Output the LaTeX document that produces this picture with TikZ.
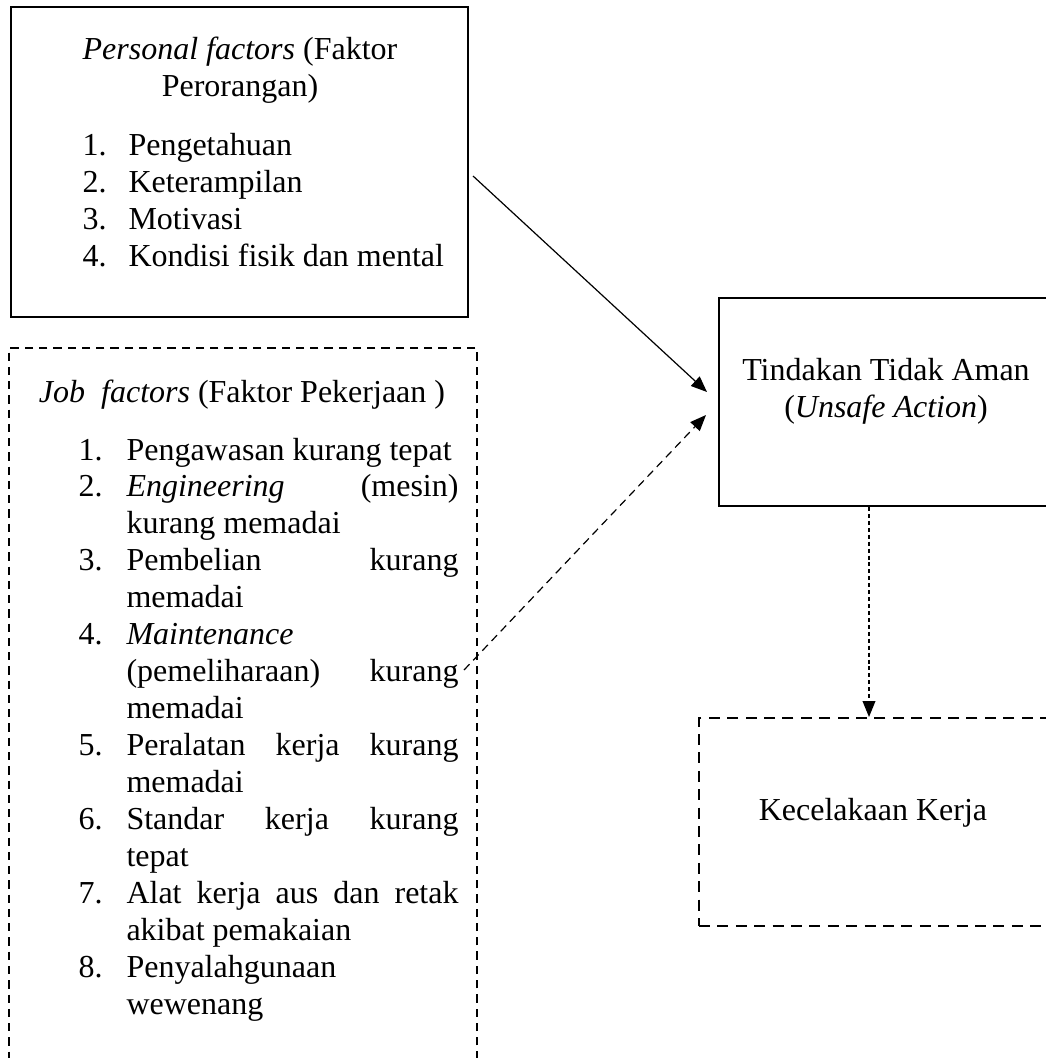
\documentclass[tikz,border=0pt]{standalone}
\usepackage{fontspec}
\setmainfont{Liberation Serif}
\usetikzlibrary{arrows.meta}
\hyphenpenalty=10000

\newcommand{\numitem}[2]{\noindent\hangindent=18pt\hangafter=1\makebox[18pt][l]{#1.}#2\par}

\tikzset{
  solidbox/.style={draw,line width=0.75pt,inner sep=0pt},
  dashbox/.style={draw,line width=0.75pt,inner sep=0pt},
  txt/.style={inner sep=0pt,font=\fontsize{12}{13.85}\selectfont},
  link/.style={line width=0.45pt,-{Triangle[length=6pt,width=4.8pt]}}
}

\begin{document}
\begin{tikzpicture}[x=0.375pt,y=-0.375pt]
\useasboundingbox (0,0) rectangle (1046,1058);
\node (pf) at (239.5,162) [solidbox,minimum width=171.4pt,minimum height=116.3pt] {};
\node (pftitle) at (240,96) [txt,anchor=base,align=center] {\textit{Personal factors} (Faktor\\Perorangan)};
\node (pflist) at (82,266) [txt,anchor=base west,align=left] {\makebox[17.25pt][l]{1.}Pengetahuan\\
  \makebox[17.25pt][l]{2.}Keterampilan\\
  \makebox[17.25pt][l]{3.}Motivasi\\
  \makebox[17.25pt][l]{4.}Kondisi fisik dan mental};
\node (jf) at (243,347) [dashbox,dash pattern=on 3.1pt off 2.25pt,anchor=north,minimum width=175.5pt,minimum height=300pt] {};
\node (jftitle) at (242,402) [txt,anchor=base] {\textit{Job}\ \ \textit{factors} (Faktor Pekerjaan\ )};
\node (jflist) at (78,460) [txt,anchor=base west,text width=142.5pt,align=justify] {\numitem{1}{Pengawasan kurang tepat}
  \numitem{2}{\textit{Engineering} (mesin)\linebreak kurang memadai}
  \numitem{3}{Pembelian kurang\linebreak memadai}
  \numitem{4}{\textit{Maintenance}\newline (pemeliharaan) kurang\linebreak memadai}
  \numitem{5}{Peralatan kerja kurang\linebreak memadai}
  \numitem{6}{Standar kerja kurang\linebreak tepat}
  \numitem{7}{Alat kerja aus dan retak\linebreak akibat pemakaian}
  \numitem{8}{Penyalahgunaan\newline wewenang}};
\node (act) at (886,402) [solidbox,minimum width=125.25pt,minimum height=78pt] {};
\node (acttxt) at (886,417) [txt,anchor=base,align=center] {Tindakan Tidak Aman\\(\textit{Unsafe Action})};
\node (acc) at (873,822) [dashbox,dash pattern=on 4.1pt off 2.8pt,minimum width=130.5pt,minimum height=78pt] {};
\node (acctxt) at (873,820) [txt,anchor=base] {Kecelakaan Kerja};
\draw[link] ([shift={(4,14)}]pf.east) -- ([shift={(-11,-10)}]act.west);
\draw[link,dash pattern=on 3pt off 2pt] ([shift={(-14,323)}]jf.north east) -- ([shift={(-12,13)}]act.west);
\draw[link,dash pattern=on 1.5pt off 1.1pt] ([shift={(-17,0)}]act.south) -- ([shift={(-4,0)}]acc.north);
\end{tikzpicture}
\end{document}
